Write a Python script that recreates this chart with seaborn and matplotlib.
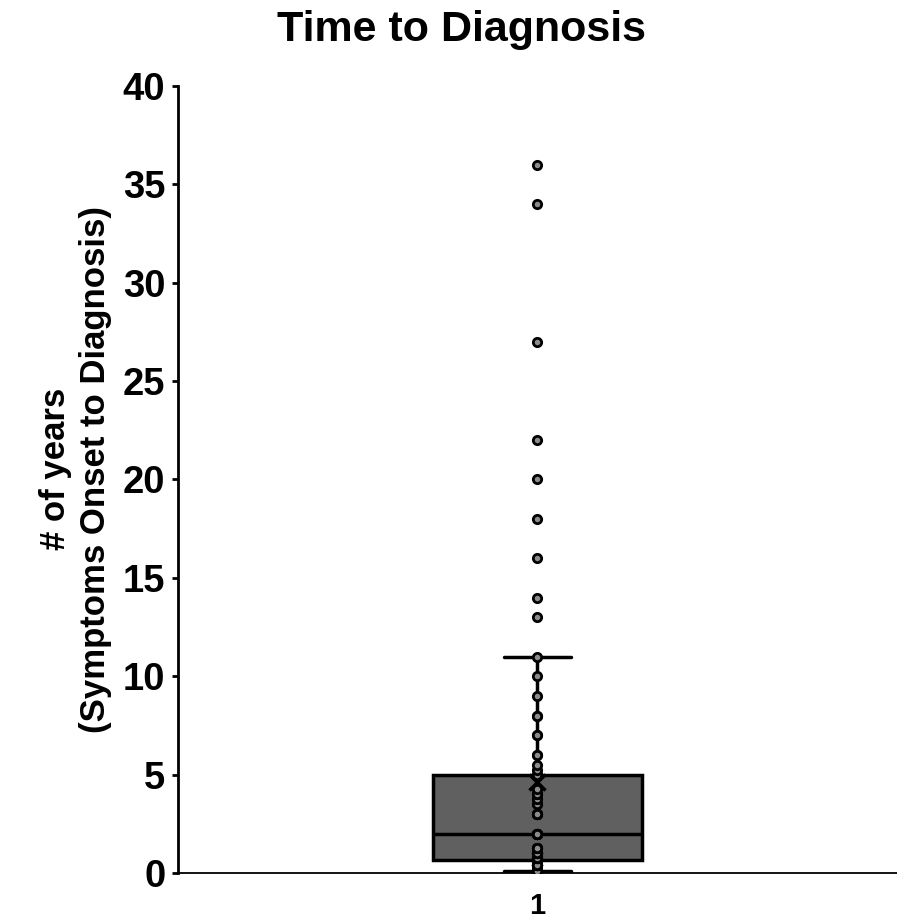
"""Box plot of time from symptom onset to diagnosis."""

import matplotlib
matplotlib.use("Agg")
import matplotlib.pyplot as plt
import numpy as np
import pandas as pd
import seaborn as sns

# years from symptom onset to diagnosis (repeats overlap)
lower_vals = [0.08] * 11 + [0.42] * 10
low_mid_vals = [0.75] * 6 + [1.0] * 8 + [1.25] * 4 + [2.0] * 4
high_mid_vals = [2.0] * 4 + [3.0] * 5 + [3.5] * 2 + [3.75] * 2 + [4.0] * 3 + [4.25] + [5.0] * 4
upper_vals = [5.25, 5.5, 6, 6, 7, 7, 8, 8, 9, 10, 11]
outlier_vals = [13, 14, 16, 18, 20, 22, 27, 34, 36]

group_label = "1"
title = "Time to Diagnosis"
y_label = "# of years\n(Symptoms Onset to Diagnosis)"
y_ticks = [0, 5, 10, 15, 20, 25, 30, 35, 40]

years = lower_vals + low_mid_vals + high_mid_vals + upper_vals + outlier_vals
df = pd.DataFrame({"group": [group_label] * len(years), "years": years})

sns.set_style("ticks")
plt.rcParams["font.family"] = ["Liberation Sans", "DejaVu Sans"]
plt.rcParams["font.weight"] = "bold"
plt.rcParams["text.color"] = "black"
plt.rcParams["axes.labelcolor"] = "black"

fig = plt.figure(figsize=(8.97, 9.23), dpi=100)
ax = fig.add_axes([0.1984, 0.0542, 0.8016, 0.8526])

sns.boxplot(
    data=df, x="group", y="years", ax=ax,
    width=0.29, color="#606060", saturation=1, linecolor="black",
    linewidth=2.5, showfliers=False, showmeans=True, capwidths=0.093,
    meanprops=dict(marker="x", markeredgecolor="black", markersize=11,
                   markeredgewidth=2.5),
)
sns.stripplot(
    data=df, x="group", y="years", ax=ax,
    jitter=False, size=6, color="#8c8c8c", edgecolor="black", linewidth=2,
    zorder=5,
)

ax.set_ylim(0, 40)
ax.set_xlim(-0.5, 0.5)
ax.set_yticks(y_ticks)
ax.set_xlabel("")
ax.set_ylabel(y_label, fontsize=25, fontweight="bold", linespacing=1.25, color="black")
ax.yaxis.set_label_coords(-0.092, 0.513)

sns.despine(ax=ax)
ax.spines["left"].set_linewidth(2)
ax.spines["bottom"].set_linewidth(1.3)
ax.spines["left"].set_color("black")
ax.spines["bottom"].set_color("black")
ax.tick_params(axis="y", length=4.5, width=2, labelsize=27.5, pad=4.5, colors="black")
ax.tick_params(axis="x", length=0, labelsize=21, pad=14, colors="black")
for lab in ax.get_yticklabels() + ax.get_xticklabels():
    lab.set_fontweight("bold")

fig.suptitle(title, x=0.515, y=0.967, va="center", fontsize=31, fontweight="bold",
             color="black")

fig.savefig("out.png", dpi=100)
